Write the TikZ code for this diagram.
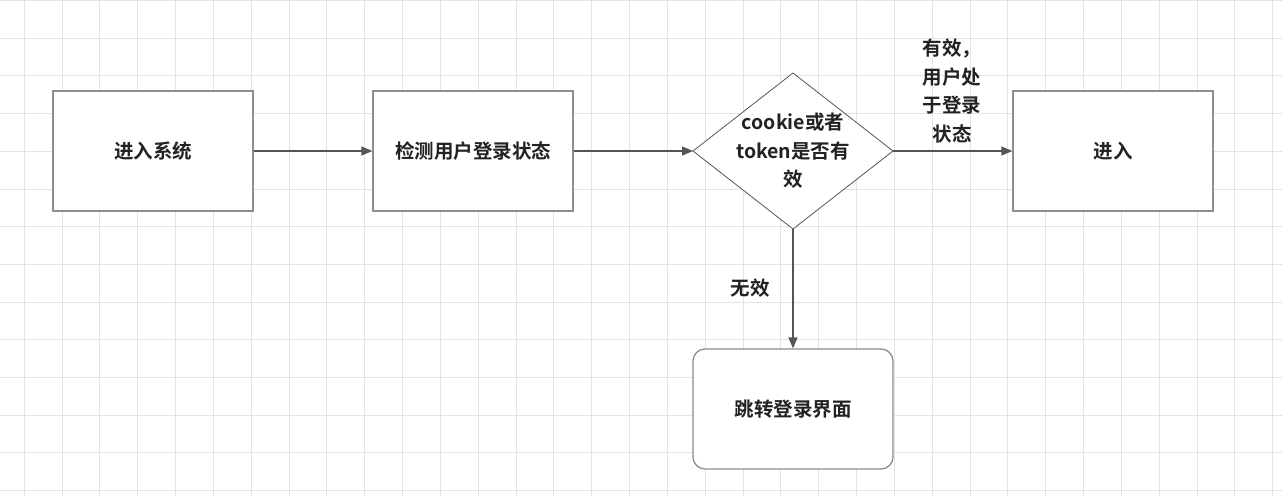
\documentclass[tikz,border=0pt]{standalone}
\usepackage{fontspec}
\newfontfamily\cjk{Noto Sans CJK SC Bold}
\usetikzlibrary{arrows.meta}
\definecolor{gridc}{HTML}{E3E3E3}
\definecolor{boxc}{HTML}{8E8E8E}
\definecolor{linec}{HTML}{555555}
\definecolor{txtc}{HTML}{222222}
\tikzset{
  px/.style={x=1pt,y=-1pt},
  lbl/.style={font=\cjk\fontsize{19.5}{28.5}\selectfont, text=txtc, align=center},
  box/.style={draw=boxc, line width=1.3pt, fill=white, minimum width=200pt, minimum height=120pt, inner sep=0pt, lbl},
  rbox/.style={box, rounded corners=12pt},
  diashape/.style={draw=linec, line width=0.8pt, fill=white},
  conn/.style={draw=linec, line width=1.3pt, -{Triangle[length=11pt,width=9pt]}},
  gridline/.style={gridc, line width=1pt},
}
\begin{document}
\begin{tikzpicture}[px]
\useasboundingbox (0,0) rectangle (1282,496);
\fill[white] (0,0) rectangle (1282,496);
\foreach \i in {0,...,33} {
  \draw[gridline] ({24.3+37.83*\i},0) -- ({24.3+37.83*\i},496);
}
\foreach \j in {0,...,13} {
  \draw[gridline] (0,{0.5+37.7*\j}) -- (1282,{0.5+37.7*\j});
}
\node[box] (a) at (153,151) {进入系统};
\node[box] (b) at (473,151) {检测用户登录状态};
\path[diashape] (693,151) coordinate (cw) -- (793,73) coordinate (cn) -- (893,151) coordinate (ce) -- (793,229) coordinate (cs) -- cycle;
\node[lbl] (ct) at (793,151) {cookie或者\\token是否有\\效};
\node[box] (d) at (1113,151) {进入};
\node[rbox] (e) at (793,409) {跳转登录界面};
\draw[conn] (a.east) -- (b.west);
\draw[conn] (b.east) -- (cw);
\draw[conn] (ce) -- (d.west);
\draw[conn] (cs) -- (e.north);
\node[lbl] (l1) at (952,91) {有效，\\用户处\\于登录\\状态};
\node[lbl] (l2) at (750,288) {无效};
\end{tikzpicture}
\end{document}
